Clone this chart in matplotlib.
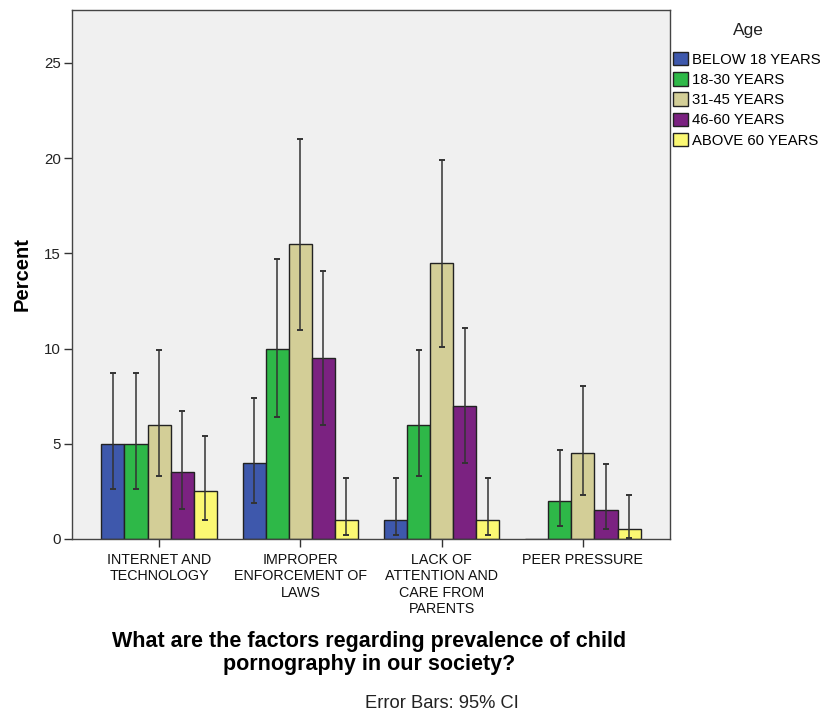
import numpy as np
import matplotlib
matplotlib.use("Agg")
import matplotlib.pyplot as plt
from matplotlib.patches import Patch

plt.rcParams['font.family'] = ['Liberation Sans', 'DejaVu Sans']

categories = ["INTERNET AND\nTECHNOLOGY", "IMPROPER\nENFORCEMENT OF\nLAWS",
              "LACK OF\nATTENTION AND\nCARE FROM\nPARENTS", "PEER PRESSURE"]
age_groups = ["BELOW 18 YEARS", "18-30 YEARS", "31-45 YEARS", "46-60 YEARS", "ABOVE 60 YEARS"]
colors = ["#3E58AC", "#2EB848", "#D3CE97", "#7B2281", "#FBF873"]

# percent per age group (rows) for each factor (columns)
percent = [
    [5.0, 4.0, 1.0, 0.0],
    [5.0, 10.0, 6.0, 2.0],
    [6.0, 15.5, 14.5, 4.5],
    [3.5, 9.5, 7.0, 1.5],
    [2.5, 1.0, 1.0, 0.5],
]
ci_low = [
    [2.6, 1.9, 0.2, None],
    [2.6, 6.4, 3.3, 0.7],
    [3.3, 11.0, 10.1, 2.3],
    [1.6, 6.0, 4.0, 0.5],
    [1.0, 0.2, 0.2, 0.05],
]
ci_high = [
    [8.7, 7.4, 3.2, None],
    [8.7, 14.7, 9.9, 4.7],
    [9.9, 21.0, 19.9, 8.05],
    [6.7, 14.1, 11.1, 3.95],
    [5.4, 3.2, 3.2, 2.3],
]

fig = plt.figure(figsize=(8.24, 7.18), dpi=100)
ax = fig.add_axes([72 / 824, 1 - 539 / 718, (670 - 72) / 824, (539 - 10) / 718])
ax.set_facecolor("#F0F0F0")

x = np.arange(len(categories))
width = 0.163
for i, (grp, col) in enumerate(zip(age_groups, colors)):
    xs = x + (i - 2) * width
    ax.bar(xs, percent[i], width=width, color=col, edgecolor="#222222", linewidth=1.0, zorder=2)
    for j in range(len(categories)):
        lo, hi = ci_low[i][j], ci_high[i][j]
        if lo is None:
            continue
        ax.errorbar(xs[j], percent[i][j], yerr=[[percent[i][j] - lo], [hi - percent[i][j]]],
                    fmt="none", ecolor="#333333", elinewidth=1.1, capsize=2.2, capthick=1.4, zorder=3)

ax.set_xlim(-0.616, 3.616)
ax.set_ylim(0, 27.78)
ax.set_yticks([0, 5, 10, 15, 20, 25])
ax.set_xticks(x)
ax.set_xticklabels(categories, fontsize=10.3, linespacing=1.22)
ax.tick_params(axis="y", labelsize=10.8, length=6, width=1, color="#333333", labelcolor="#222222", pad=2)
ax.tick_params(axis="x", length=6, width=1, color="#333333", labelcolor="#111111", pad=4)
for s in ax.spines.values():
    s.set_color("#444444")
    s.set_linewidth(1.0)

ax.set_ylabel("Percent", fontsize=14.5, fontweight="bold", labelpad=9)
fig.text(369 / 824, 1 - 653 / 718, "What are the factors regarding prevalence of child\npornography in our society?",
         ha="center", va="center", fontsize=15.5, fontweight="bold", linespacing=1.1)
fig.text(442 / 824, 1 - 704 / 718, "Error Bars: 95% CI", ha="center", va="center", fontsize=13.2,
         color="#222222")

# legend: title placed separately so the gap above the entries can be set freely
fig.text(748 / 824, 1 - 30 / 718, "Age", ha="center", va="center", fontsize=12.5, color="#222222")
handles = [Patch(facecolor=c, edgecolor="#222222", label=g) for g, c in zip(age_groups, colors)]
leg = fig.legend(handles=handles, loc="upper left", bbox_to_anchor=(673 / 824, 1 - 52 / 718),
                 frameon=False, fontsize=10.7, handlelength=1.0, handleheight=1.0,
                 handletextpad=0.25, labelspacing=0.37, borderaxespad=0, borderpad=0)

fig.savefig("out.png", dpi=100)
